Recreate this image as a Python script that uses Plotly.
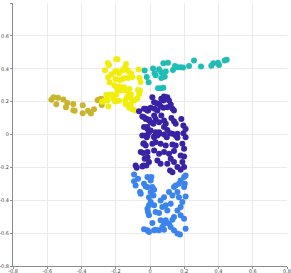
import plotly.graph_objects as go

olive_x = [-0.576, -0.564, -0.537, -0.547, -0.506, -0.483, -0.491, -0.448, -0.448, -0.440,
           -0.393, -0.393, -0.362, -0.345, -0.327, -0.306, -0.282, -0.284, -0.296]
olive_y = [0.211, 0.227, 0.223, 0.184, 0.213, 0.192, 0.166, 0.186, 0.148, 0.144,
           0.178, 0.130, 0.144, 0.128, 0.154, 0.209, 0.180, 0.217, 0.213]

yellow_x = [-0.247, -0.239, -0.198, -0.190, -0.140,
            -0.263, -0.245, -0.224, -0.204, -0.195, -0.181, -0.162, -0.152, -0.136, -0.126, -0.109, -0.066,
            -0.055, -0.062, -0.236, -0.201, -0.179, -0.167, -0.152, -0.128, -0.103,
            -0.208, -0.195, -0.181, -0.171, -0.162, -0.152, -0.189, -0.171, -0.152, -0.132, -0.120,
            -0.255, -0.243, -0.226, -0.197, -0.125, -0.111,
            -0.265, -0.249, -0.216, -0.204, -0.195, -0.181, -0.144, -0.134, -0.117, -0.105, -0.092, -0.064, -0.074,
            -0.113, -0.142, -0.121, -0.103, -0.086, -0.243, -0.280, -0.070, -0.058]
yellow_y = [0.435, 0.423, 0.458, 0.458, 0.429,
            0.391, 0.348, 0.366, 0.383, 0.387, 0.373, 0.389, 0.403, 0.395, 0.383, 0.369, 0.395,
            0.320, 0.344, 0.316, 0.338, 0.332, 0.334, 0.342, 0.344, 0.350,
            0.300, 0.288, 0.292, 0.280, 0.284, 0.288, 0.269, 0.267, 0.271, 0.269, 0.277,
            0.241, 0.241, 0.243, 0.243, 0.245, 0.243,
            0.207, 0.207, 0.221, 0.201, 0.207, 0.205, 0.209, 0.227, 0.227, 0.215, 0.207, 0.243, 0.219,
            0.182, 0.184, 0.162, 0.154, 0.146, 0.170, 0.200, 0.271, 0.267]

teal_x = [-0.031, -0.019, -0.008, 0.018, 0.027, 0.033, 0.053, 0.066, 0.078, 0.105, 0.092,
          0.066, 0.086, 0.047, 0.062, 0.078, 0.134, 0.146, 0.160, 0.179, 0.193, 0.228,
          0.257, 0.298, 0.358, 0.370, 0.397, 0.403, 0.436, 0.448]
teal_y = [0.389, 0.350, 0.318, 0.401, 0.373, 0.360, 0.397, 0.379, 0.433, 0.437, 0.383,
          0.344, 0.352, 0.281, 0.281, 0.284, 0.393, 0.417, 0.409, 0.409, 0.407, 0.417,
          0.450, 0.413, 0.419, 0.433, 0.437, 0.423, 0.450, 0.454]

dark_x = [0.014, 0.024, 0.039, 0.053, 0.066, 0.082, 0.101, 0.111, 0.078, 0.062, 0.078, 0.101,
          0.121, 0.131, 0.140, -0.025, -0.011, 0.004, 0.027, 0.043, 0.066, 0.024, 0.033,
          -0.035, -0.019, -0.006, 0.004, 0.020, 0.053, 0.082, 0.092, 0.125, 0.140, 0.150,
          0.183, 0.195, 0.208, -0.035, -0.015, 0.004, 0.033, 0.053, 0.082, 0.101, 0.131,
          0.160, -0.025, 0.024, 0.043,
          -0.064, -0.035, -0.016, -0.045, -0.025, -0.006, -0.016, -0.006,
          -0.045, -0.019, 0.024, 0.039, 0.053, 0.082, 0.098, 0.117, 0.150, 0.160, 0.195, 0.208,
          -0.035, 0.014, 0.033, 0.062, 0.092, 0.131, 0.150, 0.189, 0.199,
          -0.015, 0.024, 0.053, 0.082, 0.111, 0.140, 0.179,
          -0.031, -0.006, 0.043, 0.062, 0.101, 0.121, 0.140, 0.189, 0.199,
          -0.038, 0.117, 0.131, 0.160, 0.179, 0.199,
          -0.015, -0.039, -0.025, -0.054, -0.039, -0.015, -0.084, -0.078, -0.045, -0.021]
dark_y = [0.227, 0.196, 0.190, 0.186, 0.217, 0.231, 0.227, 0.207, 0.207, 0.170, 0.162, 0.166,
          0.182, 0.156, 0.146, 0.156, 0.146, 0.162, 0.156, 0.146, 0.115, 0.115, 0.095,
          0.105, 0.095, 0.085, 0.075, 0.065, 0.075, 0.085, 0.065, 0.101, 0.081, 0.065,
          0.095, 0.055, 0.034, 0.045, 0.034, 0.024, 0.014, 0.004, 0.045, 0.028, 0.004,
          0.004, -0.006, -0.016, -0.006,
          0.142, 0.156, 0.146, 0.109, 0.095, 0.089, 0.045, 0.014,
          -0.006, -0.016, -0.012, 0.000, 0.014, 0.000, -0.016, 0.008, -0.006, -0.020, 0.008, -0.016,
          -0.053, -0.057, -0.047, -0.057, -0.067, -0.061, -0.067, -0.057, -0.087,
          -0.107, -0.097, -0.117, -0.107, -0.117, -0.101, -0.128,
          -0.148, -0.168, -0.158, -0.178, -0.178, -0.148, -0.168, -0.168, -0.134,
          -0.188, -0.219, -0.229, -0.198, -0.215, -0.198,
          -0.006, -0.057, -0.067, -0.107, -0.113, -0.138, -0.188, -0.202, -0.194, -0.188]

light_x = [-0.093, -0.070, -0.093, -0.084, -0.058, -0.054, -0.035, -0.025, -0.015, -0.006,
           -0.006, -0.015, -0.012, -0.006, -0.035, -0.015, -0.006, -0.015,
           0.008, 0.004, 0.014, 0.024, 0.004, 0.020, 0.004, 0.024, 0.033, 0.053, 0.062, 0.082,
           0.092, 0.072, 0.101, 0.121, 0.131, 0.111, 0.140, 0.150, 0.169, 0.179, 0.199, 0.208,
           0.203, 0.199, 0.160, 0.169, 0.208, 0.189, 0.179, 0.160, 0.179, 0.199, 0.140, 0.131,
           0.111, 0.121, 0.140, 0.160, 0.175, 0.092, 0.082, 0.062, 0.072, 0.053, 0.033, 0.014,
           0.024, 0.082, 0.208]
light_y = [-0.243, -0.269, -0.284, -0.310, -0.350, -0.360, -0.300, -0.316, -0.320, -0.381,
           -0.431, -0.452, -0.472, -0.492, -0.577, -0.583, -0.593, -0.259,
           -0.259, -0.280, -0.320, -0.336, -0.350, -0.371, -0.411, -0.431, -0.472, -0.478, -0.401, -0.381,
           -0.431, -0.441, -0.462, -0.421, -0.371, -0.350, -0.320, -0.310, -0.300, -0.280, -0.259, -0.249,
           -0.300, -0.320, -0.350, -0.381, -0.377, -0.411, -0.441, -0.462, -0.492, -0.512, -0.502, -0.518,
           -0.543, -0.563, -0.583, -0.603, -0.608, -0.522, -0.543, -0.522, -0.563, -0.583, -0.579, -0.539,
           -0.583, -0.579, -0.573]

tick_vals = [-0.8, -0.6, -0.4, -0.2, 0, 0.2, 0.4, 0.6, 0.8]
tick_text = ["-0.8", "-0.6", "-0.4", "-0.2", "0", "0.2", "0.4", "0.6", "0.8"]

series = [
    (olive_x, olive_y, "#c9b42c"),
    (yellow_x, yellow_y, "#f2ee0c"),
    (teal_x, teal_y, "#20bdb6"),
    (dark_x, dark_y, "#3a22a6"),
    (light_x, light_y, "#3b84ee"),
]

fig = go.Figure()
for xs, ys, c in series:
    fig.add_trace(go.Scatter(x=xs, y=ys, mode="markers",
                             marker=dict(color=c, size=6, line=dict(width=0)),
                             showlegend=False))

axis_common = dict(
    range=[-0.8, 0.8], tickvals=tick_vals, ticktext=tick_text,
    showgrid=True, gridcolor="#ebebeb", gridwidth=1,
    zeroline=False, showline=True, linecolor="#8c8c8c", linewidth=1,
    ticks="outside", ticklen=2, tickcolor="#8c8c8c",
    tickfont=dict(family="DejaVu Sans", size=5, color="#444444"),
    automargin=False,
)
fig.update_xaxes(**axis_common, ticklabelstandoff=-2)
fig.update_yaxes(**axis_common)
fig.update_layout(
    width=291, height=273,
    margin=dict(l=13, r=4, t=3, b=7),
    paper_bgcolor="white", plot_bgcolor="white",
)
fig.write_html("out.html", config={"displayModeBar": False},
               post_script="document.body.style.margin='0';document.body.style.overflow='hidden';")
